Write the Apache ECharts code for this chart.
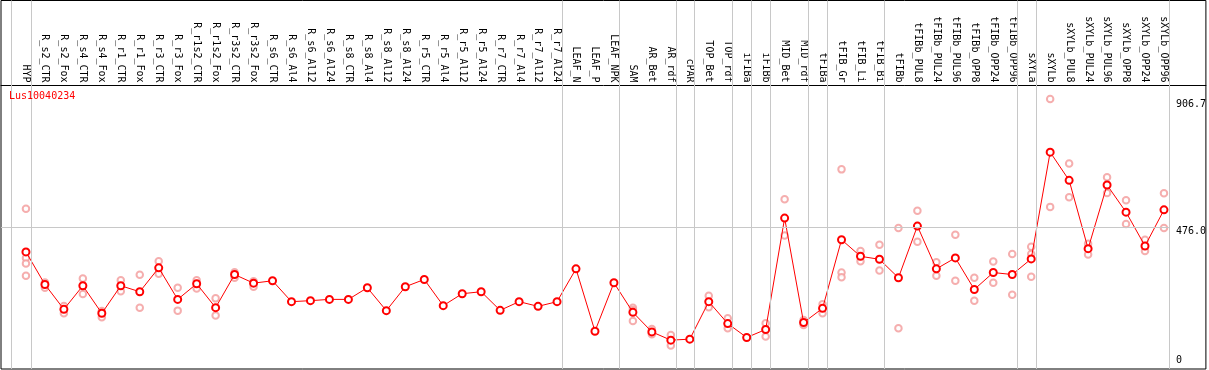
<!DOCTYPE html>
<html>
<head>
<meta charset="utf-8">
<script src="https://cdn.jsdelivr.net/npm/echarts@6/dist/echarts.min.js"></script>
<style>
html,body{margin:0;padding:0;background:#fff;}
#chart{width:1209px;height:370px;}
</style>
</head>
<body>
<div id="chart"></div>
<script>
const geneName = 'Lus10040234';
const categories = ['HYP','R_s2_CTR','R_s2_Fox','R_s4_CTR','R_s4_Fox','R_r1_CTR','R_r1_Fox','R_r3_CTR','R_r3_Fox',
  'R_r1s2_CTR','R_r1s2_Fox','R_r3s2_CTR','R_r3s2_Fox','R_s6_CTR','R_s6_Al4','R_s6_Al12','R_s6_Al24',
  'R_s8_CTR','R_s8_Al4','R_s8_Al12','R_s8_Al24','R_r5_CTR','R_r5_Al4','R_r5_Al12','R_r5_Al24',
  'R_r7_CTR','R_r7_Al4','R_r7_Al12','R_r7_Al24','LEAF_N','LEAF_P','LEAF_NPK','SAM','AR_Bet','AR_rdf',
  'cPAR','TOP_Bet','TOP_rdf','iFIBa','iFIBb','MID_Bet','MID_rdf','tFIBa','tFIB_Gr','tFIB_Li','tFIB_Bi',
  'tFIBb','tFIBb_PUL8','tFIBb_PUL24','tFIBb_PUL96','tFIBb_OPP8','tFIBb_OPP24','tFIBb_OPP96',
  'sXYLa','sXYLb','sXYLb_PUL8','sXYLb_PUL24','sXYLb_PUL96','sXYLb_OPP8','sXYLb_OPP24','sXYLb_OPP96'];
const meanValues = [391.2,281.6,197.8,277.2,184.4,277.2,257.1,337.6,231.3,283.9,203.5,315.1,286.0,294.0,223.6,
  227.0,231.3,231.3,270.5,193.4,273.9,298.4,210.2,250.4,257.1,194.4,223.6,207.8,223.6,334.2,124.0,
  287.3,187.7,121.7,93.9,97.2,223.6,149.8,102.9,129.7,505.2,153.2,201.1,432.4,376.5,366.4,
  304.1,478.4,334.2,371.1,264.8,321.8,315.1,367.7,727.5,632.6,402.3,616.8,525.3,411.3,533.0];
const replicateValues = [
  [536.4,371.1,352.0,310.8],[288.3,270.5],[208.9,184.4],[301.7,249.1],[192.1,171.0],[296.0,259.1],
  [314.1,203.5],[359.7,317.5],[270.5,193.4],[296.0,268.2],[234.7,176.7],[322.8,304.1],[292.7,273.9],
  [],[],[],[],[],[],[],[],[],[],[],[],[],[],[],[],[],[],
  [],[203.5,195.4,158.6],[131.7,114.0],[111.6,76.1],[],[243.7,204.5],[167.6,134.1],[],[150.9,106.3],
  [568.9,446.9],[161.9,145.2],[214.5,184.4],[669.5,321.8,306.1],[394.6,359.7],[415.7,328.5],
  [472.0,134.1],[529.7,425.7],[356.3,310.8],[449.2,294.0],[304.1,227.0],[358.7,287.3],[384.5,247.1],
  [409.0,384.5,307.4],[906.7,543.1],[689.6,575.6],[419.0,382.2],[642.6,590.0],[565.5,485.1],[432.4,394.6],[589.0,471.7]];
const groupEnds = [0,28,31,34,35,37,38,39,41,42,45,52,53,60];
const yTickLabels = [476.0, 906.7];
const yZeroLabel = [0];

const FONT = 'DejaVu Sans Mono';
const SEP_OFF = 5/19;
const xMin = -25/19, xMax = 1182/19;
const yMin = -3.35, yMax = 1238.7;

const sepLines = [{xAxis: -15/19}].concat(groupEnds.map(i => ({xAxis: i + SEP_OFF})));
const hLine = [{coord:[xMin, 476]}, {coord:[60 + SEP_OFF, 476]}];

const meanData = meanValues.map((v, i) => [i, v]);
const repData = [];
replicateValues.forEach((arr, i) => arr.forEach(v => repData.push([i, v])));

const chart = echarts.init(document.getElementById('chart'), null, {renderer: 'canvas'});
chart.setOption({
  animation: false,
  title: {text: geneName, left: 9, top: 91, padding: 0,
    textStyle: {color: '#ff0000', fontSize: 10, fontFamily: FONT, fontWeight: 'normal'}},
  grid: {left: 1, right: 1, top: 0.5, bottom: 1, show: true, borderColor: '#000', borderWidth: 1, backgroundColor: '#fff'},
  xAxis: {type: 'value', min: xMin, max: xMax, position: 'top', offset: -85,
    axisLine: {show: true, onZero: false, lineStyle: {color: '#000', width: 1}},
    axisTick: {show: false}, splitLine: {show: false},
    axisLabel: {customValues: categories.map((c, i) => i), rotate: 90, margin: 3,
      formatter: v => categories[Math.round(v)], fontSize: 10, fontFamily: FONT, color: '#000',
      showMinLabel: true, showMaxLabel: true, hideOverlap: false}},
  yAxis: [
    {type: 'value', min: yMin, max: yMax, position: 'right',
      axisLine: {show: false}, axisTick: {show: false}, splitLine: {show: false},
      axisLabel: {customValues: yTickLabels, inside: true, margin: 30, align: 'left', verticalAlign: 'top',
        formatter: v => v.toFixed(1), fontSize: 10, fontFamily: FONT, color: '#000'}},
    {type: 'value', min: yMin, max: yMax, position: 'right',
      axisLine: {show: false}, axisTick: {show: false}, splitLine: {show: false},
      axisLabel: {customValues: yZeroLabel, inside: true, margin: 30, align: 'left', verticalAlign: 'bottom',
        padding: [0,0,3,0], formatter: v => String(v), fontSize: 10, fontFamily: FONT, color: '#000'}}
  ],
  series: [
    {type: 'scatter', data: repData, symbol: 'emptyCircle', symbolSize: 6.5, z: 2,
      itemStyle: {color: '#f29a9a', borderColor: '#f29a9a', borderWidth: 1},
      markLine: {silent: true, symbol: 'none', label: {show: false}, animation: false,
        lineStyle: {color: '#c8c8c8', type: 'solid', width: 1}, data: sepLines.concat([hLine])}},
    {type: 'line', data: meanData, symbol: 'emptyCircle', symbolSize: 7, z: 3,
      lineStyle: {color: '#ff0000', width: 1},
      itemStyle: {color: '#ff0000', borderColor: '#ff0000', borderWidth: 1.4}}
  ]
});
</script>
</body>
</html>
